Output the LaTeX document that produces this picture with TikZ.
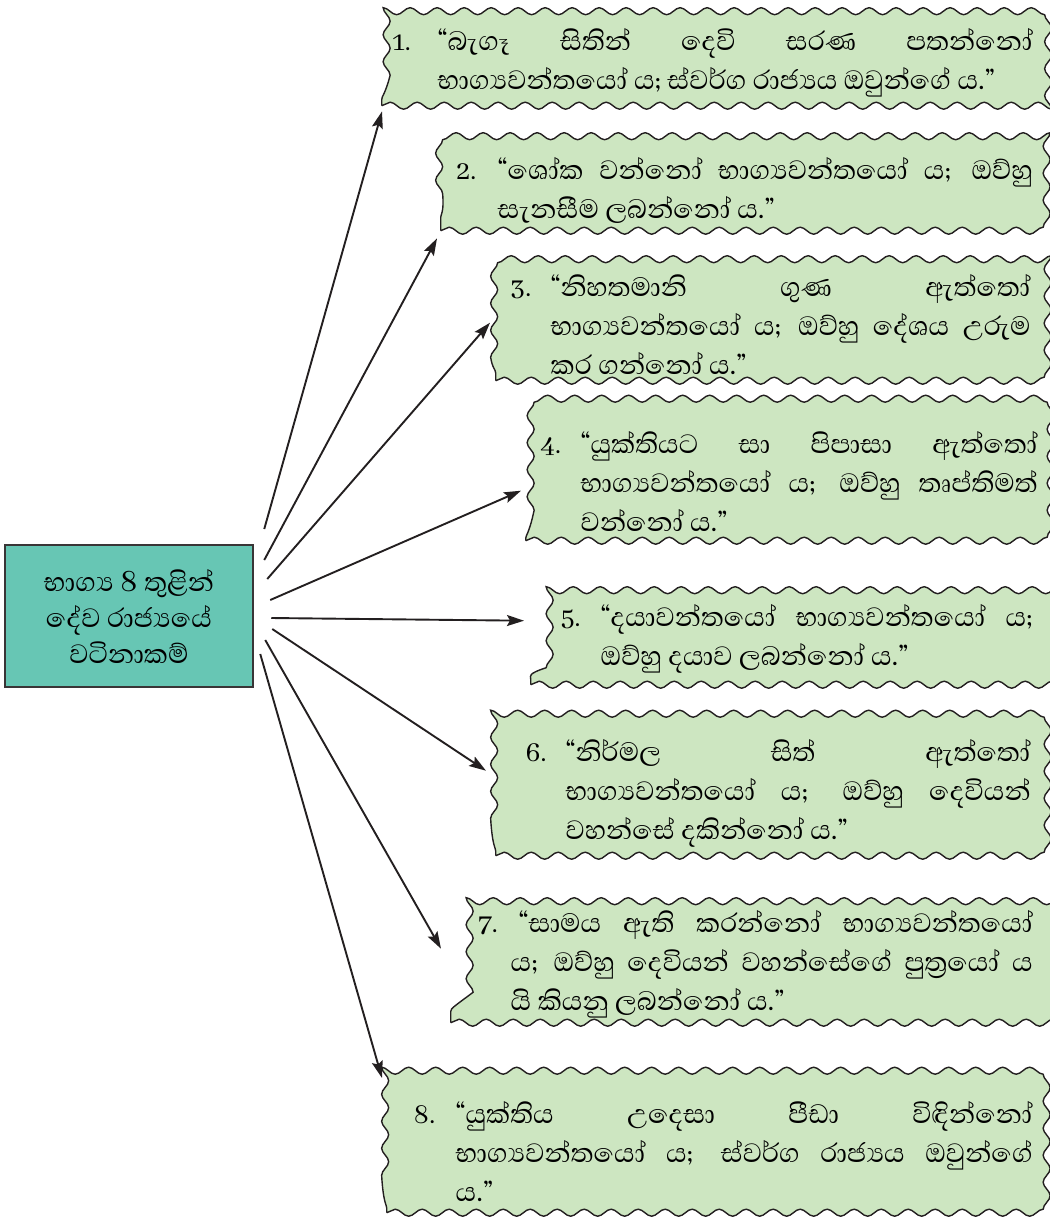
\documentclass[tikz,border=0pt]{standalone}
\usepackage{fontspec}
\newfontfamily\sinhfont[Script=Sinhala]{Abhaya Libre}
\usetikzlibrary{decorations.pathmorphing,arrows.meta,calc}
\definecolor{gfill}{HTML}{CDE6C1}
\definecolor{cfill}{HTML}{67C6B4}
\definecolor{ink}{HTML}{231F20}
\newcommand\zj{^^^^200d}
% lpad, qoff, hang, width, rpad, number, text
\newcommand\itm[7]{\hspace*{#1pt}\parbox{#4pt}{\vspace*{8pt}\tolerance=10000\hbadness=10000\hfuzz=20pt\noindent\hangindent=#3pt\hangafter=1\makebox[#2pt][l]{\fontsize{30}{39}\selectfont#6.}#7}\hspace*{#5pt}}
\tikzset{
  gbox/.style={draw=ink, line width=1.4pt, fill=gfill, decorate,
    decoration={snake, segment length=27pt, amplitude=3.5pt},
    inner sep=0pt, anchor=north west, font=\sinhfont\fontsize{34}{39}\selectfont},
  cbox/.style={draw=ink!90, line width=2.5pt, fill=cfill, inner sep=0pt,
    align=center, font=\sinhfont\fontsize{34}{36}\selectfont},
  arr/.style={draw=ink, line width=1.9pt, -{Stealth[length=17pt,width=11pt,inset=3pt]}}
}
\begin{document}
\begin{tikzpicture}[x=1pt,y=-1pt]
\useasboundingbox (0,0) rectangle (1050,1219);

\node[cbox, minimum width=248pt, minimum height=142pt] (c) at (129,616)
  {භාග්\zj ය 8 තුළින්\\ දේව රාජ්\zj යයේ\\ වටිනාකම්};

\node[gbox, minimum width=661pt, minimum height=93pt] (b1) at (381,12)
  {\itm{11}{45}{45}{640}{10}{1}{“බැගෑ සිතින් දෙවි සරණ පතන්නෝ\linebreak භාග්\zj යවන්තයෝ ය; ස්වර්ග රාජ්\zj යය ඔවුන්ගේ ය.”}};

\node[gbox, minimum width=602pt, minimum height=88pt] (b2) at (440,142)
  {\itm{16}{41}{41}{576}{10}{2}{“ශෝක වන්නෝ භාග්\zj යවන්තයෝ ය; ඔව්හු\linebreak සැනසීම ලබන්නෝ ය.”}};

\node[gbox, minimum width=547pt, minimum height=120pt] (b3) at (495,260)
  {\itm{15}{40}{40}{520}{12}{3}{“නිහතමානි ගුණ ඇත්තෝ\linebreak භාග්\zj යවන්තයෝ ය; ඔව්හු දේශය උරුම\linebreak කර ගන්නෝ ය.”}};

\node[gbox, minimum width=517pt, minimum height=127pt] (b4) at (525,413)
  {\itm{15}{40}{40}{497}{5}{4}{“යුක්තියට සා පිපාසා ඇත්තෝ\linebreak භාග්\zj යවන්තයෝ ය; ඔව්හු තෘප්තිමත්\linebreak වන්නෝ ය.”}};

\node[gbox, minimum width=512pt, minimum height=100pt] (b5) at (530,584)
  {\itm{30}{40}{40}{472}{10}{5}{“දයාවන්තයෝ භාග්\zj යවන්තයෝ ය;\linebreak ඔව්හු දයාව ලබන්නෝ ය.”}};

\node[gbox, minimum width=547pt, minimum height=132pt] (b6) at (495,723)
  {\itm{30}{40}{40}{505}{12}{6}{“නිර්මල සිත් ඇත්තෝ\linebreak භාග්\zj යවන්තයෝ ය; ඔව්හු දෙවියන්\linebreak වහන්සේ දකින්නෝ ය.”}};

\node[gbox, minimum width=592pt, minimum height=124pt] (b7) at (450,898)
  {\itm{28}{40}{32}{554}{10}{7}{“සාමය ඇති කරන්නෝ භාග්\zj යවන්තයෝ\linebreak ය; ඔව්හු දෙවියන් වහන්සේගේ පුත්\zj රයෝ ය\linebreak යි කියනු ලබන්නෝ ය.”}};

\node[gbox, minimum width=656pt, minimum height=131pt] (b8) at (386,1081)
  {\itm{27}{42}{42}{619}{10}{8}{“යුක්තිය උදෙසා පීඩා විඳින්නෝ\linebreak භාග්\zj යවන්තයෝ ය; ස්වර්ග රාජ්\zj යය ඔවුන්ගේ\linebreak ය.”}};

\draw[arr] ([shift={(10,-87)}]c.east) -- ([shift={(1,5)}]b1.south west);
\draw[arr] ([shift={(10,-56)}]c.east) -- ([shift={(-3,7)}]b2.south west);
\draw[arr] ([shift={(13,-37)}]c.east) -- ([shift={(-5,2)}]b3.west);
\draw[arr] ([shift={(16,-16)}]c.east) -- ([shift={(-4,13.5)}]b4.west);
\draw[arr] ([shift={(17,2)}]c.east) -- ([shift={(-6,-14)}]b5.west);
\draw[arr] ([shift={(18,13)}]c.east) -- ([shift={(-9,-19)}]b6.west);
\draw[arr] ([shift={(11,24)}]c.east) -- ([shift={(-9,-12)}]b7.west);
\draw[arr] ([shift={(6,38)}]c.east) -- ([shift={(-4,-3)}]b8.north west);
\end{tikzpicture}
\end{document}
